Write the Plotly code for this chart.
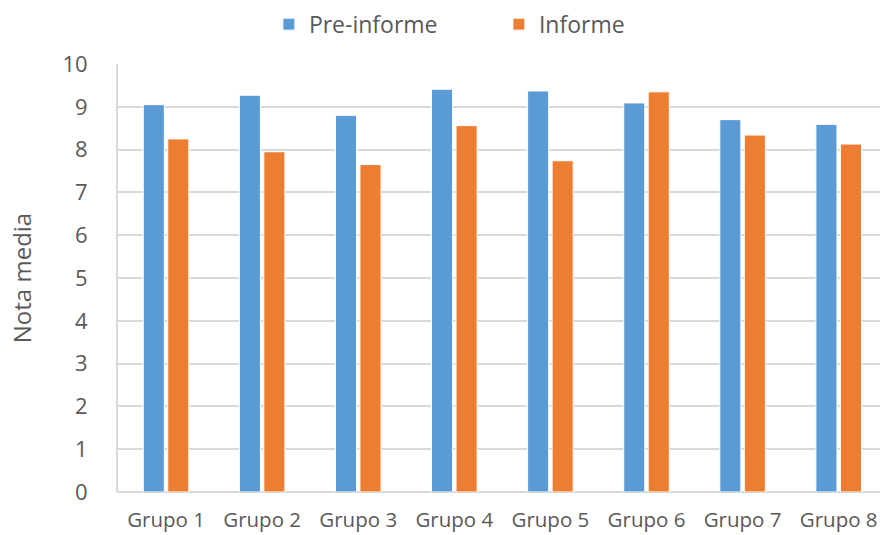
import plotly.graph_objects as go

grupos = ["Grupo 1", "Grupo 2", "Grupo 3", "Grupo 4", "Grupo 5", "Grupo 6", "Grupo 7", "Grupo 8"]
pre_informe = [9.05, 9.27, 8.80, 9.41, 9.37, 9.09, 8.70, 8.59]
informe = [8.25, 7.95, 7.65, 8.56, 7.74, 9.35, 8.34, 8.13]
y_ticks = list(range(0, 11))

FONT = "Open Sans"
TEXT = "#595959"
GRID = "#d9d9d9"

fig = go.Figure()
fig.add_trace(go.Bar(
    x=grupos, y=pre_informe, name="Pre-informe",
    marker=dict(color="#5b9bd5", line=dict(color="white", width=1)),
))
fig.add_trace(go.Bar(
    x=grupos, y=informe, name="Informe",
    marker=dict(color="#ed7d31", line=dict(color="white", width=1)),
))

fig.update_layout(
    width=880, height=535,
    margin=dict(l=118, r=0, t=64, b=43, autoexpand=False),
    paper_bgcolor="white", plot_bgcolor="white",
    barmode="group", bargap=0.49, bargroupgap=0.14,
    font=dict(family=FONT, color=TEXT),
    legend=dict(
        orientation="h", x=0.198, xanchor="left",
        y=0.995, yref="container", yanchor="top",
        font=dict(size=23, color=TEXT, family=FONT),
        entrywidth=185, entrywidthmode="pixels", itemwidth=30,
    ),
    xaxis=dict(
        range=[-0.5, 7.43],
        showgrid=False, showline=False,
        ticks="outside", ticklen=9, tickcolor="rgba(0,0,0,0)",
        tickfont=dict(size=20.5, color=TEXT, family=FONT),
    ),
    yaxis=dict(
        range=[0, 10], tickvals=y_ticks, showgrid=True,
        gridcolor=GRID, gridwidth=1.5,
        showline=True, linecolor=GRID, linewidth=2,
        zeroline=True, zerolinecolor=GRID, zerolinewidth=2,
        tickfont=dict(size=22, color=TEXT, family=FONT),
        ticks="outside", ticklen=24, tickcolor="rgba(0,0,0,0)",
        title=dict(text="Nota media", font=dict(size=24, color=TEXT, family=FONT), standoff=24),
    ),
)

fig.write_html("out.html")
